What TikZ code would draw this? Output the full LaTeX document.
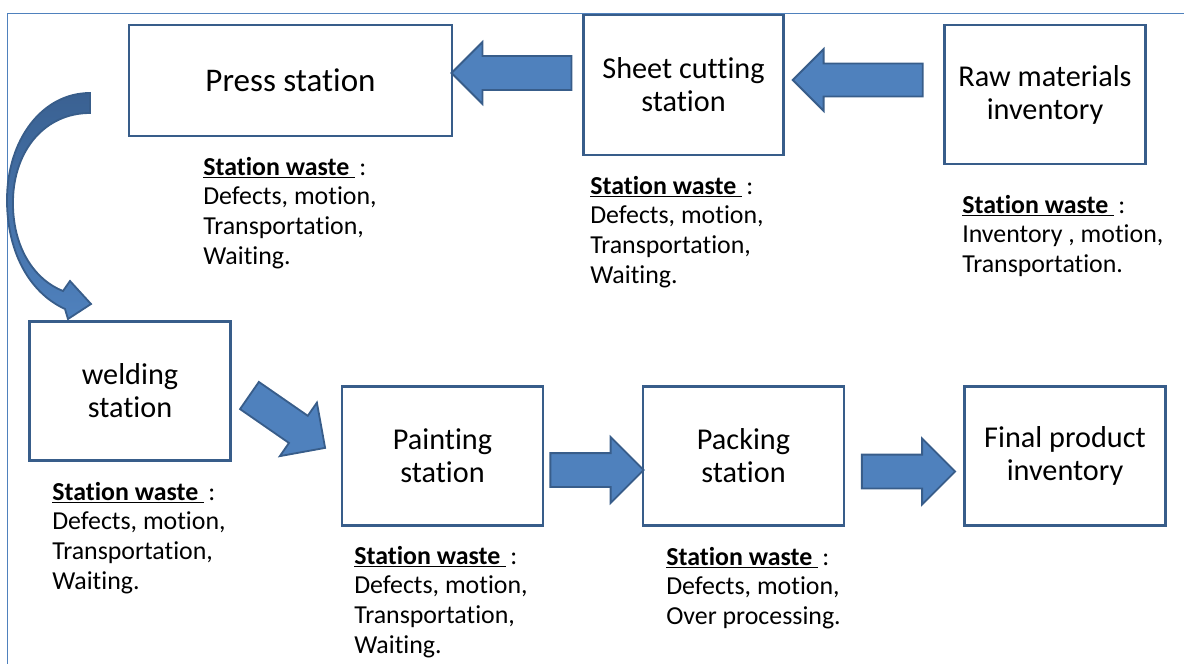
\documentclass[tikz,border=0pt]{standalone}
\usepackage{fontspec}
\setmainfont{Carlito}[Ligatures=NoCommon]
\usetikzlibrary{shapes.arrows}

\definecolor{boxline}{HTML}{385D8A}
\definecolor{arrowfill}{HTML}{4F81BD}
\definecolor{arrowdark}{HTML}{3A6192}
\definecolor{frameline}{HTML}{4F81BD}

\newcommand{\wastehead}{\underline{\textbf{Station waste\ }}\,:}

\tikzset{
  station/.style={draw=boxline, line width=2pt, fill=white, align=center, inner sep=0pt,
    minimum width=5.025cm, minimum height=3.475cm, font=\fontsize{21.5}{23.4}\selectfont},
  waste/.style={anchor=north west, align=left, inner sep=0pt, font=\fontsize{18.4}{21}\selectfont},
  blockarrow/.style={single arrow, draw=boxline, fill=arrowfill, line width=1.3pt,
    inner xsep=0pt, inner ysep=0.4cm, single arrow head extend=0.4cm},
}

\begin{document}
\begin{tikzpicture}[x=0.025cm, y=-0.025cm]

            \useasboundingbox (0,0) rectangle (1184,664);

            % Frame
            \draw[frameline, line width=1.4pt] (7.5,664) -- (7.5,13.5) -- (1184,13.5);

            % Stations, top row
            \node[station, minimum width=8.075cm, minimum height=2.775cm,
                  font=\fontsize{23.5}{25}\selectfont] (press) at (290.5,80.5) {Press station};
            \node[station, minimum width=5cm, minimum height=3.5cm] (sheet) at (683.5,85) {Sheet cutting\\station};
            \node[station] (raw) at (1045,94.5) {Raw materials\\inventory};

            % Stations, bottom row
            \node[station] (welding) at (130,391) {welding\\station};
            \node[station] (painting) at (442.5,456) {Painting\\station};
            \node[station] (packing) at (743.5,456) {Packing\\station};
            \node[station] (final) at (1065,456) {Final product\\inventory};

            % Waste of each station
            \node[waste] (wpress) at (203,157) {\wastehead\\Defects, motion,\\Transportation,\\Waiting.};
            \node[waste] (wsheet) at (590,176) {\wastehead\\Defects, motion,\\Transportation,\\Waiting.};
            \node[waste] (wraw) at (962,195) {\wastehead\\Inventory , motion,\\Transportation.};
            \node[waste] (wwelding) at (52,482) {\wastehead\\Defects, motion,\\Transportation,\\Waiting.};
            \node[waste] (wpainting) at (354,546) {\wastehead\\Defects, motion,\\Transportation,\\Waiting.};
            \node[waste] (wpacking) at (666,547) {\wastehead\\Defects, motion,\\Over processing.};

            % Block arrows
            \node[blockarrow, minimum height=3cm, single arrow head extend=0.35cm,
                  rotate=180] (a1) at (520,73) {}; % Sheet cutting to press
            \node[blockarrow, minimum height=3.25cm, inner ysep=0.39cm, single arrow head extend=0.36cm,
                  rotate=180] (a2) at (866,80) {}; % Raw materials to sheet cutting
            \node[blockarrow, minimum height=2.3cm, inner ysep=0.39cm, rotate=-34.7] (a3) at (280.5,417) {}; % Welding to painting
            \node[blockarrow, minimum height=2.33cm] (a4) at (588.5,470) {}; % Painting to packing
            \node[blockarrow, minimum height=2.33cm] (a5) at (900,471.5) {}; % Packing to final product

            % Curved arrow, press to welding
            \shadedraw[top color=arrowdark, bottom color=arrowfill, draw=boxline, line width=1.3pt]
              (90,93) -- (90,113)
              .. controls (45,113) and (14,150) .. (13,200)
              .. controls (12,248) and (35,280) .. (63,291)
              -- (70,281) -- (91,304) -- (68,319) -- (65,309)
              .. controls (28,292) and (7,250) .. (7,200)
              .. controls (7,140) and (42,93) .. cycle;

\end{tikzpicture}
\end{document}
